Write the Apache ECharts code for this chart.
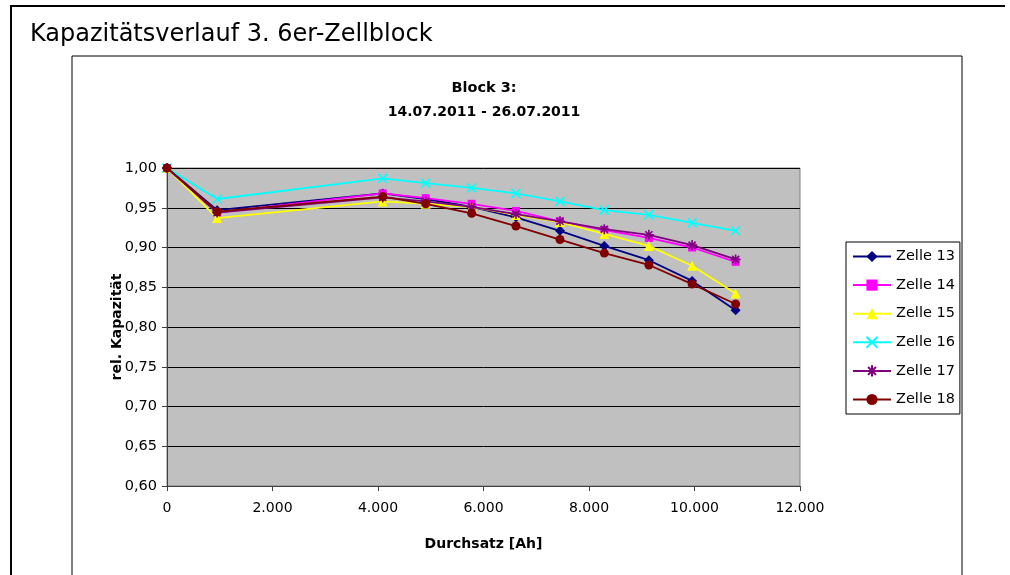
<!DOCTYPE html>
<html lang="de">
<head>
  <meta charset="UTF-8">
  <title>Kapazitätsverlauf</title>
  <script src="https://cdn.jsdelivr.net/npm/echarts@6/dist/echarts.min.js"></script>
</head>
<body style="margin: 0; background: #fff;">
<div id="main" style="width: 1010px; height: 575px;"></div>
<script type="text/javascript">
  // Durchsatz [Ah] der Messpunkte
  const throughput = [0, 950, 4090, 4905, 5775, 6615, 7450, 8290, 9135, 9955, 10780]

  // rel. Kapazität je Zelle
  const zelle13 = [1.000, 0.947, 0.968, 0.961, 0.951, 0.938, 0.921, 0.902, 0.884, 0.858, 0.821]
  const zelle14 = [1.000, 0.944, 0.968, 0.962, 0.955, 0.946, 0.933, 0.922, 0.912, 0.900, 0.882]
  const zelle15 = [1.000, 0.937, 0.958, 0.955, 0.951, 0.941, 0.932, 0.917, 0.902, 0.877, 0.842]
  const zelle16 = [1.000, 0.961, 0.987, 0.981, 0.975, 0.968, 0.958, 0.947, 0.941, 0.931, 0.921]
  const zelle17 = [1.000, 0.944, 0.963, 0.958, 0.951, 0.942, 0.933, 0.923, 0.916, 0.903, 0.885]
  const zelle18 = [1.000, 0.945, 0.964, 0.955, 0.943, 0.927, 0.910, 0.893, 0.878, 0.854, 0.829]

  const seriesNames = ['Zelle 13', 'Zelle 14', 'Zelle 15', 'Zelle 16', 'Zelle 17', 'Zelle 18']

  const FONT = '"DejaVu Sans", "Liberation Sans", Arial, sans-serif'

  const xSymbol = 'path://M0,0L10,10M10,0L0,10'
  const starSymbol = 'path://M5,0L5,10M0,5L10,5M1.5,1.5L8.5,8.5M8.5,1.5L1.5,8.5'

  const looks = [
    {color: '#000080', symbol: 'diamond', size: 10},
    {color: '#ff00ff', symbol: 'rect', size: 8},
    {color: '#ffff00', symbol: 'triangle', size: 10},
    {color: '#00ffff', symbol: xSymbol, size: 9, stroke: true},
    {color: '#800080', symbol: starSymbol, size: 10, stroke: true},
    {color: '#800000', symbol: 'circle', size: 9},
  ]

  const values = [zelle13, zelle14, zelle15, zelle16, zelle17, zelle18]

  const myChart = echarts.init(document.getElementById('main'))

  const series = seriesNames.map((name, i) => {
    const l = looks[i]
    return {
      name: name,
      type: 'line',
      data: throughput.map((x, j) => [x, values[i][j]]),
      symbol: l.symbol,
      symbolSize: l.size,
      showAllSymbol: true,
      lineStyle: {color: l.color, width: 1.8},
      itemStyle: l.stroke
        ? {color: 'transparent', borderColor: l.color, borderWidth: 1.6}
        : {color: l.color, borderWidth: 0},
      emphasis: {disabled: true},
      z: 2 + i,
    }
  })

  const option = {
    animation: false,
    textStyle: {fontFamily: FONT},
    grid: {
      left: 167,
      right: 210,
      top: 168,
      bottom: 89,
      show: true,
      backgroundColor: '#c0c0c0',
      borderColor: '#808080',
      borderWidth: 1,
    },
    legend: {
      orient: 'vertical',
      left: 846,
      top: 242,
      padding: [7, 5, 7, 6],
      borderColor: '#000',
      borderWidth: 1,
      itemWidth: 38,
      itemHeight: 14,
      itemGap: 13.6,
      textStyle: {fontSize: 14.5, color: '#000', fontFamily: FONT},
      data: seriesNames,
    },
    xAxis: {
      type: 'value',
      min: 0,
      max: 12000,
      interval: 2000,
      name: 'Durchsatz [Ah]',
      nameLocation: 'middle',
      nameGap: 51,
      nameMoveOverlap: false,
      nameTextStyle: {fontSize: 14, fontWeight: 'bold', color: '#000', fontFamily: FONT},
      axisLine: {lineStyle: {color: '#404040', width: 1}},
      axisTick: {show: true, length: 5, lineStyle: {color: '#404040'}},
      axisLabel: {
        fontSize: 14,
        color: '#000',
        margin: 15,
        formatter: v => String(v).replace(/\B(?=(\d{3})+(?!\d))/g, '.'),
      },
      splitLine: {show: false},
    },
    yAxis: {
      type: 'value',
      min: 0.6,
      max: 1.0,
      interval: 0.05,
      name: 'rel. Kapazität',
      nameLocation: 'middle',
      nameGap: 43,
      nameMoveOverlap: false,
      nameTextStyle: {fontSize: 14, fontWeight: 'bold', color: '#000', fontFamily: FONT},
      axisLine: {show: true, lineStyle: {color: '#404040', width: 1}},
      axisTick: {show: true, length: 5, lineStyle: {color: '#404040'}},
      axisLabel: {
        fontSize: 14.5,
        color: '#000',
        margin: 10,
        formatter: v => v.toFixed(2).replace('.', ','),
      },
      splitLine: {show: true, lineStyle: {color: '#000', width: 1}},
    },
    graphic: [
      {
        type: 'polyline',
        shape: {points: [[11, 580], [11, 6], [1005, 6]]},
        style: {stroke: '#000', lineWidth: 2, fill: null},
        silent: true,
      },
      {
        type: 'polyline',
        shape: {points: [[72, 580], [72, 56], [962, 56], [962, 580]]},
        style: {stroke: '#000', lineWidth: 1, fill: null},
        silent: true,
      },
      {
        type: 'text',
        style: {
          text: 'Kapazitätsverlauf 3. 6er-Zellblock',
          x: 30, y: 35,
          textVerticalAlign: 'middle',
          font: '24px ' + FONT,
          fill: '#000',
        },
        silent: true,
      },
      {
        type: 'text',
        style: {
          text: 'Block 3:',
          x: 484, y: 88,
          textAlign: 'center',
          textVerticalAlign: 'middle',
          font: 'bold 14.5px ' + FONT,
          fill: '#000',
        },
        silent: true,
      },
      {
        type: 'text',
        style: {
          text: '14.07.2011 - 26.07.2011',
          x: 484, y: 112,
          textAlign: 'center',
          textVerticalAlign: 'middle',
          font: 'bold 14px ' + FONT,
          fill: '#000',
        },
        silent: true,
      },
    ],
    series: series,
  }

  myChart.setOption(option)
</script>
</body>
</html>
